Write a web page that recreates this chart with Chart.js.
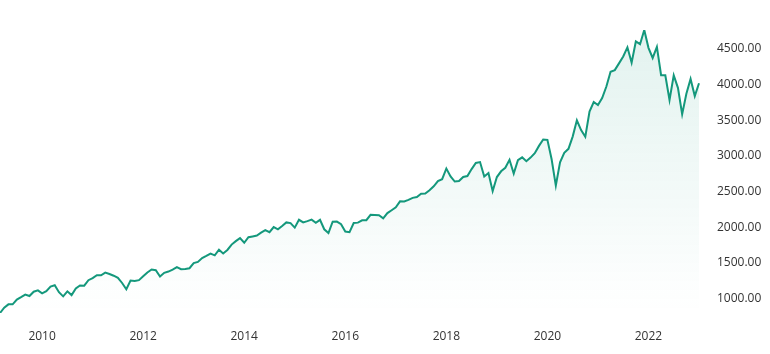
<!DOCTYPE html>
<html>
<head>
<meta charset="utf-8">
<script src="https://cdn.jsdelivr.net/npm/chart.js@4"></script>
<style>
  html, body { margin: 0; padding: 0; background: #fff; }
  #wrap { width: 770px; height: 354px; }
</style>
</head>
<body>
<div id="wrap"><canvas id="indexChart"></canvas></div>
<script>
// monthly closes, first month is March 2009
const startYear = 2009;
const startMonth = 3;

const closes = [
  798, 873, 919, 919, 987, 1021, 1057, 1036, 1096, 1115,
  1074, 1104, 1169, 1187, 1089, 1031, 1102, 1049, 1141, 1183, 1181, 1258,
  1286, 1327, 1326, 1364, 1345, 1321, 1292, 1219, 1131, 1253, 1247, 1258,
  1312, 1366, 1408, 1398, 1310, 1362, 1379, 1407, 1441, 1412, 1416, 1426,
  1498, 1515, 1569, 1598, 1631, 1606, 1686, 1633, 1682, 1757, 1806, 1848,
  1783, 1860, 1872, 1884, 1924, 1960, 1931, 2003, 1972, 2018, 2068, 2059,
  1995, 2105, 2068, 2086, 2107, 2063, 2104, 1972, 1920, 2079, 2080, 2044,
  1940, 1932, 2060, 2065, 2097, 2099, 2174, 2171, 2168, 2126, 2199, 2239,
  2279, 2364, 2363, 2384, 2412, 2423, 2470, 2472, 2519, 2575, 2648, 2674,
  2824, 2714, 2641, 2648, 2705, 2718, 2816, 2902, 2914, 2712, 2760, 2507,
  2704, 2785, 2834, 2946, 2752, 2942, 2980, 2927, 2977, 3038, 3141, 3231,
  3226, 2954, 2585, 2912, 3044, 3100, 3271, 3500, 3363, 3270, 3622, 3756,
  3714, 3811, 3973, 4181, 4204, 4298, 4395, 4523, 4308, 4605, 4567, 4766,
  4516, 4374, 4530, 4132, 4132, 3785, 4130, 3955, 3586, 3872, 4080, 3840,
  4020
];

const tickYears = ['2010', '2012', '2014', '2016', '2018', '2020', '2022'];
const priceTicks = [1000, 1500, 2000, 2500, 3000, 3500, 4000, 4500];

const months = closes.map((_, i) => {
  const m = startMonth - 1 + i;
  const y = startYear + Math.floor(m / 12);
  const mm = String((m % 12) + 1).padStart(2, '0');
  return y + '-' + mm;
});

const lineColor = 'rgb(20, 152, 124)';
const fontSpec = { family: "'Segoe UI', 'Open Sans', sans-serif", size: 12 };

const ctx = document.getElementById('indexChart').getContext('2d');

new Chart(ctx, {
  type: 'line',
  data: {
    labels: months,
    datasets: [{
      data: closes,
      borderColor: lineColor,
      borderWidth: 2,
      pointRadius: 0,
      tension: 0,
      fill: 'start',
      backgroundColor: (c) => {
        const area = c.chart.chartArea;
        if (!area) return 'rgba(20, 152, 124, 0.08)';
        const g = c.chart.ctx.createLinearGradient(0, area.top, 0, area.bottom);
        g.addColorStop(0, 'rgba(20, 152, 124, 0.12)');
        g.addColorStop(1, 'rgba(20, 152, 124, 0)');
        return g;
      }
    }]
  },
  options: {
    responsive: true,
    maintainAspectRatio: false,
    animation: false,
    layout: { padding: { top: 30, right: 0, bottom: 0, left: 0 } },
    plugins: {
      legend: { display: false },
      tooltip: { enabled: false }
    },
    scales: {
      x: {
        grid: { display: false, drawTicks: true, tickLength: 16 },
        border: { display: false },
        afterFit: (scale) => { scale.height = 41; },
        ticks: {
          autoSkip: false,
          maxRotation: 0,
          padding: 0,
          color: '#333',
          font: fontSpec,
          callback: function (value) {
            const lbl = this.getLabelForValue(value);
            const [y, m] = lbl.split('-');
            return (m === '01' && tickYears.includes(y)) ? y : '';
          }
        }
      },
      y: {
        position: 'right',
        min: Math.min(...closes),
        max: Math.max(...closes),
        grid: { display: false, drawTicks: true, tickLength: 18 },
        border: { display: false },
        afterFit: (scale) => { scale.width = 71; },
        afterBuildTicks: (scale) => {
          scale.ticks = priceTicks.map(v => ({ value: v }));
        },
        ticks: {
          padding: 0,
          color: '#333',
          font: fontSpec,
          callback: (v) => v.toFixed(2)
        }
      }
    }
  }
});
</script>
</body>
</html>
